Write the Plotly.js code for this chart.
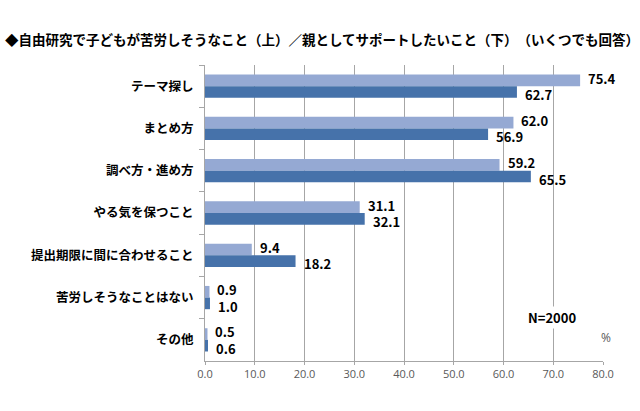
<!DOCTYPE html>
<html>
<head>
<meta charset="utf-8">
<script src="https://cdn.plot.ly/plotly-3.0.1.min.js"></script>
<style>html,body{margin:0;padding:0;background:#fff;}#chart{width:640px;height:411px;}</style>
</head>
<body>
<div id="chart"></div>
<script>
const categories = ["テーマ探し", "まとめ方", "調べ方・進め方", "やる気を保つこと", "提出期限に間に合わせること", "苦労しそうなことはない", "その他"];
const hardship = [75.4, 62.0, 59.2, 31.1, 9.4, 0.9, 0.5];   // 子どもが苦労しそうなこと（上）
const support  = [62.7, 56.9, 65.5, 32.1, 18.2, 1.0, 0.6];  // 親としてサポートしたいこと（下）
const tickValues = [0, 10, 20, 30, 40, 50, 60, 70, 80];
const tickLabels = ["0.0", "10.0", "20.0", "30.0", "40.0", "50.0", "60.0", "70.0", "80.0"];

const jp = '"Noto Sans CJK JP", "Noto Sans", sans-serif';
const labelFont = {family: jp, size: 13, color: '#000', weight: 700};

function mk(vals, name, color) {
  return {
    type: 'bar', orientation: 'h', name: name,
    y: categories, x: vals,
    marker: {color: color},
    hoverinfo: 'x+y'
  };
}

const data = [
  mk(hardship, '子どもが苦労しそうなこと', '#95a9d3'),
  mk(support, '親としてサポートしたいこと', '#4672aa')
];

const labels = [];
categories.forEach((c, i) => {
  labels.push({x: hardship[i], y: c, xref: 'x', yref: 'y', text: hardship[i].toFixed(1),
    xanchor: 'left', yanchor: 'middle', xshift: 6, yshift: 8, showarrow: false, font: labelFont});
  labels.push({x: support[i], y: c, xref: 'x', yref: 'y', text: support[i].toFixed(1),
    xanchor: 'left', yanchor: 'middle', xshift: 6, yshift: -8.5, showarrow: false, font: labelFont});
});

const layout = {
  width: 640, height: 411,
  margin: {l: 205, r: 37, t: 65, b: 50},
  paper_bgcolor: '#fff', plot_bgcolor: '#fff',
  showlegend: false,
  barmode: 'group', bargap: 0.45, bargroupgap: 0,
  title: {
    text: '◆自由研究で子どもが苦労しそうなこと（上）／親としてサポートしたいこと（下）　（いくつでも回答）',
    font: {family: jp, size: 13.5, color: '#000', weight: 700},
    xref: 'container', x: 5/640, xanchor: 'left',
    yref: 'container', y: 1 - 40/411, yanchor: 'middle'
  },
  xaxis: {
    range: [0, 80], tickvals: tickValues, ticktext: tickLabels,
    showgrid: true, gridcolor: '#a6a6a6', gridwidth: 1,
    showline: true, linecolor: '#a6a6a6', linewidth: 1,
    ticks: 'outside', ticklen: 3, tickcolor: '#a6a6a6',
    tickfont: {family: '"Open Sans", "Noto Sans", sans-serif', size: 11, color: '#595959'},
    zeroline: false, fixedrange: true
  },
  yaxis: {
    type: 'category', autorange: 'reversed',
    tickson: 'boundaries', ticks: 'outside', ticklen: 5, tickcolor: '#a6a6a6',
    showline: true, linecolor: '#a6a6a6', linewidth: 1,
    showgrid: false, zeroline: false,
    ticklabelstandoff: 8,
    tickfont: {family: jp, size: 12.5, color: '#000', weight: 700},
    fixedrange: true
  },
  annotations: labels.concat([
    {text: 'N=2000', x: 69.65, xref: 'x', y: 0.108, yref: 'paper',
     showarrow: false, bgcolor: '#fff', font: {family: jp, size: 13, color: '#000', weight: 700}},
    {text: '%', x: 1.025, xref: 'paper', y: 0.044, yref: 'paper',
     showarrow: false, bgcolor: '#fff', font: {family: '"Open Sans", sans-serif', size: 12, color: '#595959'}}
  ])
};

Plotly.newPlot('chart', data, layout, {staticPlot: true, displayModeBar: false});
</script>
</body>
</html>
